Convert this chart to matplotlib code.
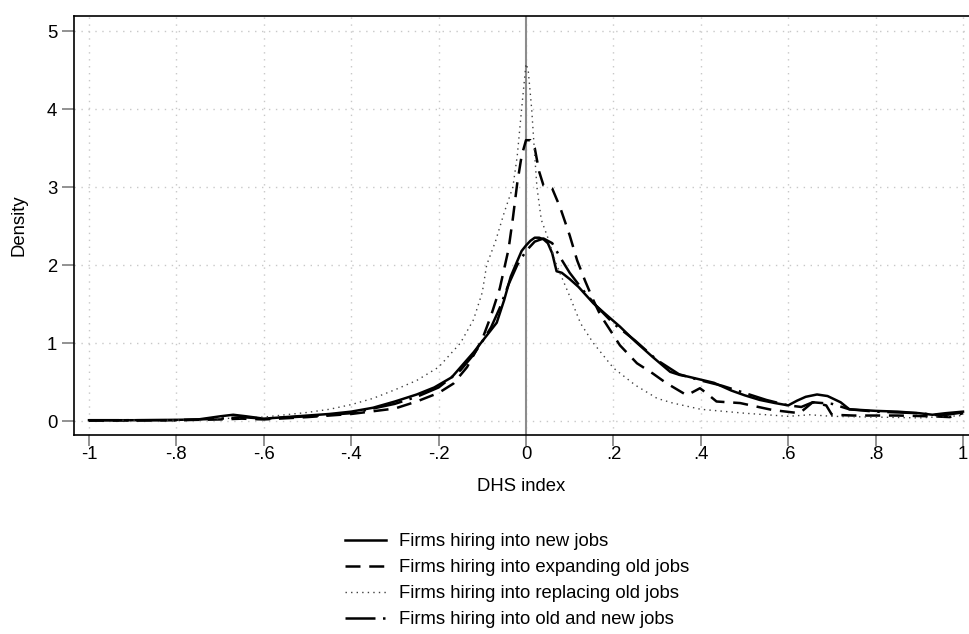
import matplotlib
matplotlib.use("Agg")
import matplotlib.pyplot as plt

plt.rcParams['font.family'] = ['Liberation Sans', 'DejaVu Sans']

# ---- data ----
x_new = [-1, -0.9, -0.8, -0.75, -0.7, -0.67, -0.64, -0.6, -0.55, -0.5, -0.45, -0.4, -0.35, -0.3,
         -0.25, -0.21, -0.17, -0.12, -0.067, -0.05, -0.035, -0.02, -0.01, 0, 0.01, 0.02, 0.03, 0.04,
         0.05, 0.06, 0.07, 0.082, 0.1, 0.12, 0.154, 0.18, 0.215, 0.25, 0.29, 0.33, 0.352, 0.37, 0.4,
         0.43, 0.47, 0.5, 0.535, 0.57, 0.6, 0.62, 0.64, 0.666, 0.69, 0.72, 0.74, 0.8, 0.85, 0.9,
         0.93, 0.96, 1.0]
y_new = [0.01, 0.01, 0.015, 0.02, 0.06, 0.08, 0.06, 0.03, 0.05, 0.07, 0.09, 0.12, 0.17, 0.25,
         0.34, 0.43, 0.56, 0.88, 1.26, 1.55, 1.85, 2.05, 2.18, 2.25, 2.31, 2.35, 2.35, 2.33,
         2.28, 2.15, 1.92, 1.9, 1.82, 1.72, 1.51, 1.38, 1.21, 1.02, 0.82, 0.63, 0.59, 0.57, 0.53,
         0.49, 0.39, 0.33, 0.27, 0.23, 0.2, 0.26, 0.31, 0.34, 0.32, 0.24, 0.15, 0.13, 0.12, 0.1,
         0.08, 0.1, 0.12]

x_exp = [-1, -0.8, -0.7, -0.65, -0.6, -0.5, -0.4, -0.3, -0.25, -0.2, -0.166, -0.135, -0.1, -0.08,
         -0.06, -0.04, -0.03, -0.02, -0.01, 0, 0.01, 0.02, 0.03, 0.04, 0.05, 0.06, 0.078, 0.1, 0.117,
         0.135, 0.154, 0.17, 0.192, 0.215, 0.254, 0.29, 0.32, 0.368, 0.398, 0.41, 0.436, 0.49, 0.565,
         0.626, 0.656, 0.687, 0.70, 0.75, 0.85, 0.93, 0.97, 1.0]
y_exp = [0.005, 0.01, 0.02, 0.03, 0.02, 0.05, 0.09, 0.16, 0.25, 0.36, 0.48, 0.69, 1.05, 1.35,
         1.7, 2.2, 2.6, 3.05, 3.4, 3.6, 3.6, 3.5, 3.2, 3.02, 3.0, 2.98, 2.74, 2.38, 2.06,
         1.8, 1.55, 1.36, 1.17, 0.97, 0.74, 0.61, 0.49, 0.33, 0.42, 0.37, 0.25, 0.23, 0.14,
         0.1, 0.24, 0.2, 0.08, 0.07, 0.07, 0.06, 0.05, 0.1]

x_rep = [-1, -0.8, -0.7, -0.6, -0.5, -0.45, -0.4, -0.35, -0.3, -0.25, -0.2, -0.15, -0.12, -0.1,
         -0.09, -0.07, -0.05, -0.03, -0.02, -0.01, 0, 0.005, 0.013, 0.02, 0.025, 0.035, 0.05, 0.07,
         0.1, 0.125, 0.154, 0.2, 0.25, 0.3, 0.336, 0.4, 0.5, 0.6, 0.65, 0.7, 0.8, 0.9, 1.0]
y_rep = [0.01, 0.01, 0.03, 0.05, 0.11, 0.15, 0.21, 0.29, 0.4, 0.52, 0.69, 1.0, 1.3, 1.65,
         2.0, 2.3, 2.67, 3.0, 3.4, 4.0, 4.58, 4.5, 4.0, 3.4, 3.0, 2.58, 2.35, 2.0,
         1.6, 1.25, 1.0, 0.68, 0.46, 0.29, 0.23, 0.15, 0.1, 0.06, 0.08, 0.06, 0.05, 0.04, 0.07]

x_both = [-1, -0.8, -0.7, -0.65, -0.6, -0.5, -0.4, -0.3, -0.25, -0.2, -0.15, -0.12, -0.1, -0.08,
          -0.06, -0.04, -0.02, 0, 0.02, 0.04, 0.06, 0.078, 0.1, 0.13, 0.16, 0.2, 0.25, 0.3, 0.35,
          0.4, 0.45, 0.5, 0.55, 0.6, 0.63, 0.656, 0.7, 0.74, 0.8, 0.9, 0.95, 1.0]
y_both = [0.01, 0.01, 0.03, 0.05, 0.03, 0.06, 0.1, 0.22, 0.31, 0.43, 0.65, 0.85, 1.02, 1.2,
          1.45, 1.75, 2.0, 2.18, 2.3, 2.34, 2.28, 2.1, 1.9, 1.68, 1.48, 1.25, 1.03, 0.78, 0.6,
          0.52, 0.45, 0.36, 0.27, 0.2, 0.18, 0.24, 0.22, 0.15, 0.12, 0.1, 0.07, 0.11]

labels = ["Firms hiring into new jobs",
          "Firms hiring into expanding old jobs",
          "Firms hiring into replacing old jobs",
          "Firms hiring into old and new jobs"]

x_ticks = [-1, -0.8, -0.6, -0.4, -0.2, 0, 0.2, 0.4, 0.6, 0.8, 1]
x_ticklabels = ["-1", "-.8", "-.6", "-.4", "-.2", "0", ".2", ".4", ".6", ".8", "1"]
y_ticks = [0, 1, 2, 3, 4, 5]

# ---- figure ----
W, H = 969, 634
FS = 13.3
fig = plt.figure(figsize=(W / 100, H / 100), dpi=100)
ax = fig.add_axes([74 / W, 1 - 435 / H, (W - 74) / W, (435 - 16) / H])

ax.set_xlim(-1 - 15 / 437.5, 1 + 6 / 437.5)
ax.set_ylim(-14 / 78, 5 + 15 / 78)

ax.set_xticks(x_ticks)
ax.set_xticklabels(x_ticklabels)
ax.set_yticks(y_ticks)
ax.set_yticklabels([str(v) for v in y_ticks])
ax.tick_params(axis='both', labelsize=FS, colors='#7f7f7f', labelcolor='black',
               length=8, width=1.2)
ax.tick_params(axis='x', pad=0)
ax.tick_params(axis='y', length=9, pad=3)

ax.grid(True, color='#c8c8c8', linestyle=(0, (1, 4)), linewidth=1.0)
ax.set_axisbelow(True)

for s in ['left', 'bottom', 'top']:
    ax.spines[s].set_color('black')
    ax.spines[s].set_linewidth(1.2)
ax.spines['right'].set_visible(False)

ax.axvline(0, color='#8c8c8c', linewidth=1.5, zorder=1)

l1, = ax.plot(x_new, y_new, color='black', linewidth=1.8, solid_joinstyle='round')
l2, = ax.plot(x_exp, y_exp, color='black', linewidth=1.8, linestyle=(0, (6, 3.5)))
l3, = ax.plot(x_rep, y_rep, color='#404040', linewidth=1.0, linestyle=(0, (1, 3)))
l4, = ax.plot(x_both, y_both, color='black', linewidth=1.8, linestyle=(0, (12, 3, 1, 3)))

ax.set_xlabel("DHS index", fontsize=FS, labelpad=11)
ax.set_ylabel("Density", fontsize=FS, labelpad=14)

fig.legend([l1, l2, l3, l4], labels, loc='upper left',
           bbox_to_anchor=(345 / W, 1 - 533 / H), frameon=False, fontsize=FS,
           handlelength=2.2, handletextpad=0.7, labelspacing=0.49, borderpad=0,
           borderaxespad=0)

fig.savefig("out.png", dpi=100)
